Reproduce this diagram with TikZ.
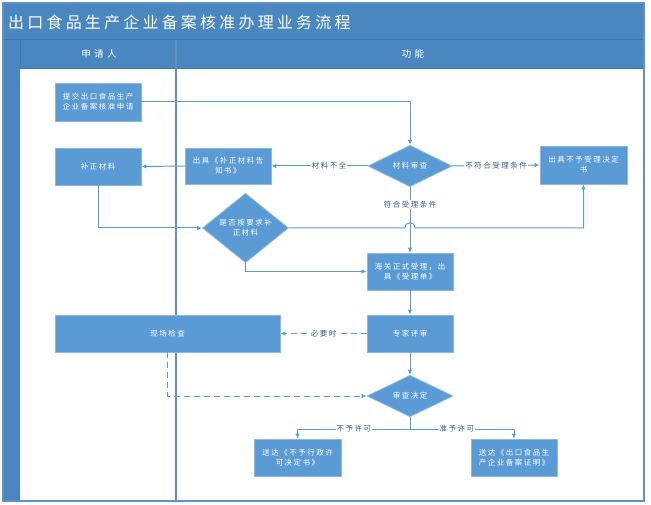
\documentclass[tikz,border=0pt]{standalone}
\usepackage{fontspec}
\usetikzlibrary{shapes.geometric,arrows.meta}
\newfontfamily\cjkbox[LetterSpace=20]{Noto Sans CJK SC}
\newfontfamily\cjklab[LetterSpace=20]{Noto Sans CJK SC}
\newfontfamily\cjktitle[LetterSpace=20]{Noto Sans CJK SC}
\newfontfamily\cjkhead[LetterSpace=35]{Noto Sans CJK SC}
\definecolor{boxblue}{HTML}{5B9BD5}
\definecolor{boxedge}{HTML}{8DB8E2}
\definecolor{barblue}{HTML}{4A86C0}
\definecolor{barline}{HTML}{3F78AE}
\definecolor{laneline}{HTML}{6190C2}
\definecolor{linkblue}{HTML}{5B9BD5}
\definecolor{labtext}{HTML}{3A5C86}
\tikzset{
  procbox/.style={rectangle, fill=boxblue, draw=boxedge, line width=0.8pt, text=white,
    font=\cjkbox\fontsize{7.5}{10}\selectfont, align=center, inner sep=1pt},
  decbox/.style={diamond, fill=boxblue, draw=boxedge, line width=0.8pt, text=white,
    font=\cjkbox\fontsize{7.5}{10}\selectfont, align=center, inner sep=0pt},
  link/.style={draw=linkblue, line width=1pt, -{Latex[length=5pt,width=4.5pt]}},
  plainlink/.style={draw=linkblue, line width=1pt},
  dlink/.style={link, dash pattern=on 6pt off 4pt},
  dplain/.style={plainlink, dash pattern=on 6pt off 4pt},
  lab/.style={fill=white, text=labtext, font=\cjklab\fontsize{7.5}{9}\selectfont, inner sep=1pt},
}
\begin{document}
\begin{tikzpicture}[x=1pt,y=-1pt]
\useasboundingbox (0,0) rectangle (651,505);
% frame
\fill[white] (0,0) rectangle (651,505);
\fill[barblue] (3,3) rectangle (644,68);
\fill[barblue] (3,3) rectangle (20,501);
\draw[barline, line width=1pt] (3,40) -- (644,40);
\draw[barline, line width=0.8pt] (20,40) -- (20,68);
\draw[barline, line width=0.8pt] (20,68) -- (644,68);
\draw[laneline, line width=1.8pt] (176,40) -- (176,501);
\draw[laneline, line width=1.5pt] (3,3) rectangle (644,501);
\node[anchor=west, text=white, font=\cjktitle\fontsize{16}{18}\selectfont, inner sep=0pt] (title) at (8,22) {出口食品生产企业备案核准办理业务流程};
\node[text=white, font=\cjkhead\fontsize{9.5}{11}\selectfont, inner sep=0pt] (lane1) at (99,54) {申请人};
\node[text=white, font=\cjkhead\fontsize{9.5}{11}\selectfont, inner sep=0pt] (lane2) at (413,54) {功能};

% nodes
\node[procbox, minimum width=86pt, minimum height=38pt] (sub) at (98,102) {提交出口食品生产\\企业备案核准申请};
\node[procbox, minimum width=86pt, minimum height=37pt] (bz) at (98,166.5) {补正材料};
\node[procbox, minimum width=86pt, minimum height=36pt] (gz) at (228,166) {出具《补正材料告\\知书》};
\node[decbox, minimum width=84pt, minimum height=36pt] (d1) at (410,166) {材料审查};
\node[procbox, minimum width=87pt, minimum height=38pt] (nb) at (583.5,165) {出具不予受理决定\\书};
\node[decbox, minimum width=86pt, minimum height=31pt] (d2) at (245.5,228) {是否按要求补\\正材料};
\node[procbox, minimum width=86pt, minimum height=37pt] (hg) at (410,271.5) {海关正式受理，出\\具《受理单》};
\node[procbox, minimum width=86pt, minimum height=37pt] (zj) at (410,333.5) {专家评审};
\node[procbox, minimum width=225pt, minimum height=37pt] (xc) at (167.5,333.5) {现场检查};
\node[decbox, minimum width=86pt, minimum height=35pt] (d3) at (410,396) {审查决定};
\node[procbox, minimum width=87pt, minimum height=37pt] (b1) at (297.5,457.5) {送达《不予行政许\\可决定书》};
\node[procbox, minimum width=86pt, minimum height=37pt] (b2) at (514,457.5) {送达《出口食品生\\产企业备案证明》};

\coordinate (hopL) at (405,228);
\coordinate (hopR) at (415,228);
\coordinate (split) at (410,429);

% connectors
\draw[link] (sub.east) -| (d1.north);
\draw[link] (d1.west) -- node[lab, pos=0.4] {材料不全} (gz.east);
\draw[link] (gz.west) -- (bz.east);
\draw[link] (d1.east) -- node[lab, pos=0.5] {不符合受理条件} (nb.west);
\draw[link] (d1.south) -- node[lab, pos=0.27] {符合受理条件} (hg.north);
\draw[link] (bz.south) |- (d2.west);
\draw[link] (d2.east) -- (hopL) .. controls (405,221) and (415,221) .. (hopR) -- (hopR -| nb.south) -- (nb.south);
\draw[link] (d2.south) |- (hg.west);
\draw[link] (hg.south) -- (zj.north);
\draw[dlink] (zj.west) -- node[lab, pos=0.5] {必要时} (xc.east);
\draw[dlink] (xc.south) |- (d3.west);
\draw[link] (zj.south) -- (d3.north);
\draw[plainlink] (d3.south) -- (split);
\draw[link] (split) -- node[lab, pos=0.5] {不予许可} (split -| b1.north) -- (b1.north);
\draw[link] (split) -- node[lab, pos=0.45] {准予许可} (split -| b2.north) -- (b2.north);
\end{tikzpicture}
\end{document}
